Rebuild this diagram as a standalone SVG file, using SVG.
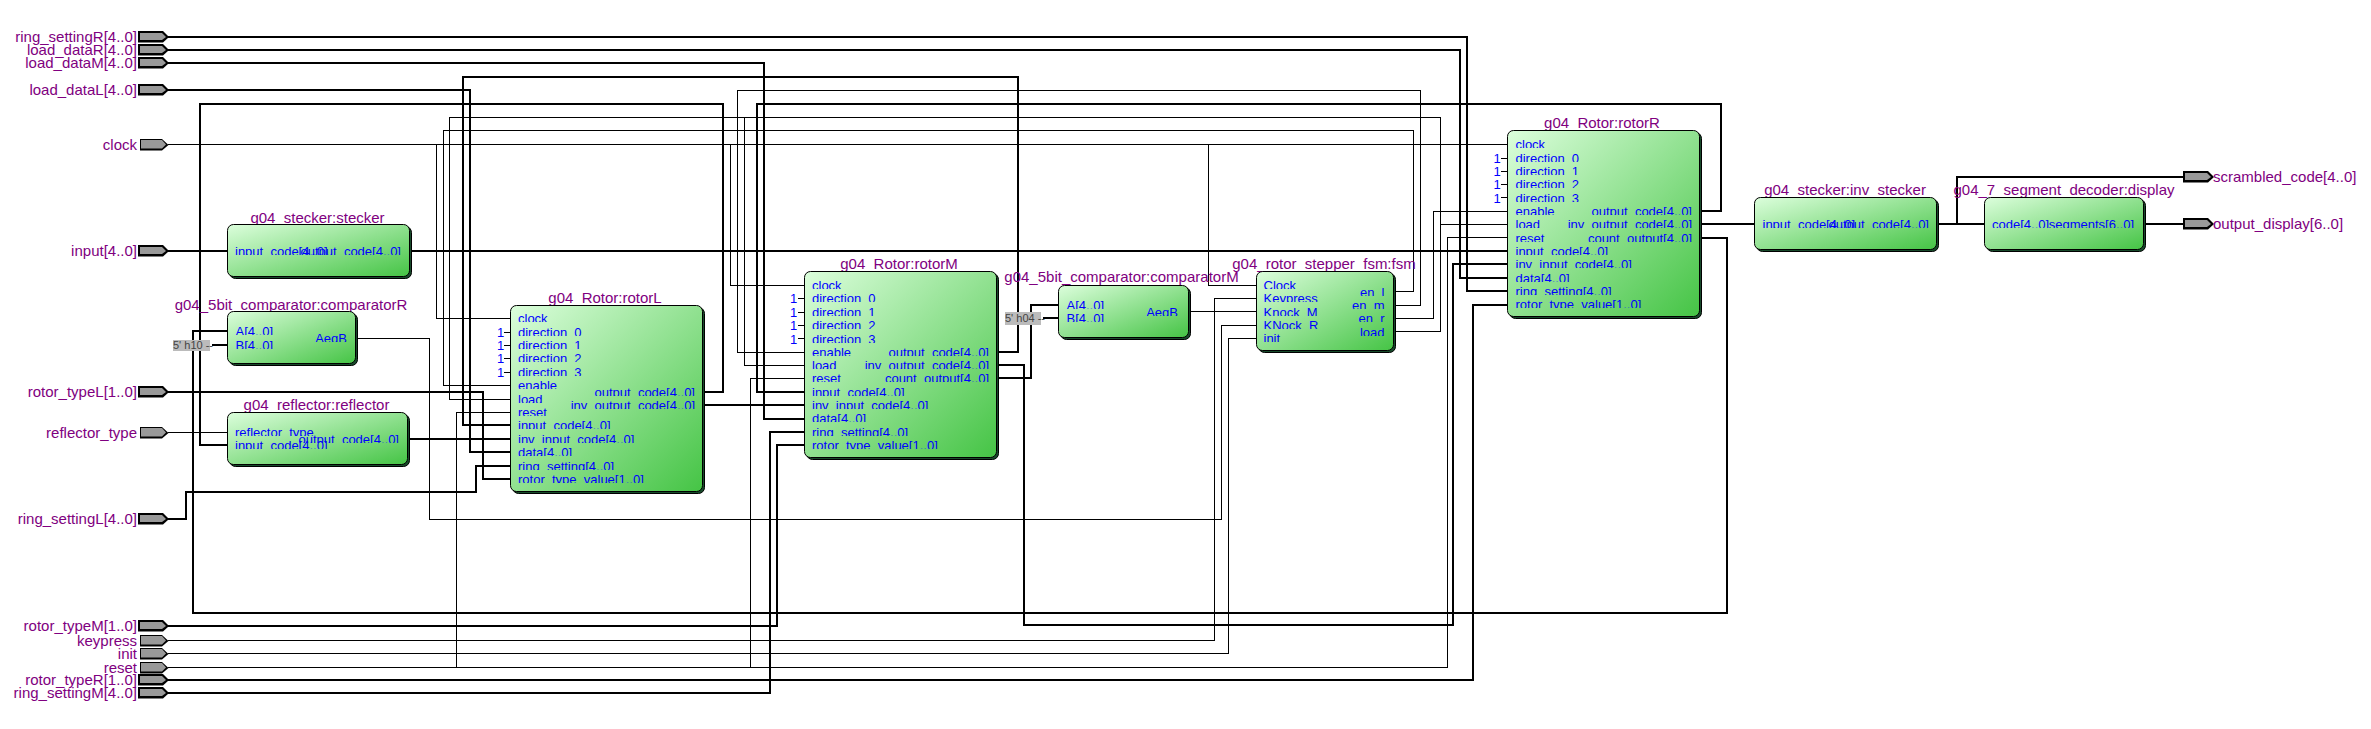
<svg xmlns="http://www.w3.org/2000/svg" width="2371" height="729" viewBox="0 0 2371 729">
<style>
text{font-family:"Liberation Sans",Arial,sans-serif}
.l{font-size:15px;fill:#800080}
.e{text-anchor:end}
.m{text-anchor:middle}
.b{font-size:13px;fill:#0000ff;clip-path:url(#row)}
.o{font-size:13px;fill:#0000ff}
.k{font-size:11px;fill:#444}
.t,.n{fill:none;stroke:#000;shape-rendering:crispEdges}
.t{stroke-width:2}
.n{stroke-width:1}
.s{fill:#17492a;stroke:#000;stroke-width:1}
.f{fill:url(#g);stroke:#000;stroke-width:1}
.c{fill:#bbb}
</style>
<defs>
<linearGradient id="g" x1="0" y1="0" x2="1" y2="1"><stop offset="0" stop-color="#dcfedc"/><stop offset="1" stop-color="#45c445"/></linearGradient>
<clipPath id="row"><rect x="-200" y="-13" width="400" height="12"/></clipPath>
<g id="pb"><path d="M-1-6H24L30 0L24 5.500H-1Z" fill="#000"/><path d="M1-4H23L27 0L23 3H1Z" fill="#999"/></g>
<g id="ps"><path d="M1-5.500H23L29.500 0.500L23 6H1Z" fill="#000"/><path d="M2-4.500H23L27 0L23 4H2Z" fill="#999"/></g>
</defs>
<g id="connectors">
<path class="t" d="M168 37H1467V291H1508"/>
<path class="t" d="M168 50H1460V278H1508"/>
<path class="t" d="M168 63H764V419H805"/>
<path class="t" d="M168 90H470V452H511"/>
<path class="n" d="M168 144.5H1508"/>
<path class="n" d="M436.500 144.500V318.500H511"/>
<path class="n" d="M730.500 144.500V285.500H805"/>
<path class="n" d="M1208.500 144.500V285.500H1256"/>
<path class="t" d="M168 251H228"/>
<path class="t" d="M410 251H1508"/>
<path class="t" d="M168 392H483V479H511"/>
<path class="n" d="M168 432.500H228"/>
<path class="t" d="M168 519H186V492H476V466H511"/>
<path class="t" d="M168 626H777V445H805"/>
<path class="n" d="M168 640.500H1214.500V298.500H1256"/>
<path class="n" d="M168 653.500H1228.500V338.500H1256"/>
<path class="n" d="M168 667.500H1447.500V237.500H1508"/>
<path class="n" d="M456.500 667.500V412.500H511"/>
<path class="n" d="M750.500 667.500V378.500H805"/>
<path class="t" d="M168 680H1473V305H1508"/>
<path class="t" d="M168 693H770V432H805"/>
<path class="t" d="M704 392H723V104H200V445H228"/>
<path class="t" d="M703 405H805"/>
<path class="t" d="M407 439H511"/>
<path class="t" d="M998 352H1018V77H463V425H511"/>
<path class="t" d="M998 365H1024V625H1453V264H1508"/>
<path class="t" d="M998 378H1031V305H1058"/>
<path class="t" d="M1701 211H1721V104H757V392H805"/>
<path class="t" d="M1701 224H1755"/>
<path class="t" d="M1701 238H1727V613H193V331H228"/>
<path class="t" d="M1938 224H1985"/>
<path class="t" d="M1957 224V177H2184"/>
<path class="t" d="M2145 224H2184"/>
<path class="n" d="M1393 291.500H1413.500V130.500H443.500V385.500H511"/>
<path class="n" d="M1393 305.500H1420.500V90.500H737.500V352.500H805"/>
<path class="n" d="M1393 318.500H1433.500V211.500H1508"/>
<path class="n" d="M1393 331.500H1440.500V117.500H449.500V399.500H511"/>
<path class="n" d="M1440.500 224.500H1508"/>
<path class="n" d="M744.500 117.500V365.500H805"/>
<path class="n" d="M357 338.500H429.500V519.500H1221.500V325.500H1256"/>
<path class="n" d="M1189 311.500H1256"/>
<path class="t" d="M212 345H228"/>
<path class="t" d="M1043 318H1058"/>
<path class="n" d="M504 332.500H511M504 345.500H511M504 358.500H511M504 372.500H511"/>
<path class="n" d="M798 298.500H805M798 312.500H805M798 325.500H805M798 338.500H805"/>
<path class="n" d="M1501 158.500H1508M1501 171.500H1508M1501 184.500H1508M1501 197.500H1508"/>
</g>
<g id="port-ring_settingR"><use href="#pb" x="139" y="37"/><text class="l e" x="137" y="42">ring_settingR[4..0]</text></g>
<g id="port-load_dataR"><use href="#pb" x="139" y="50"/><text class="l e" x="137" y="55">load_dataR[4..0]</text></g>
<g id="port-load_dataM"><use href="#pb" x="139" y="63"/><text class="l e" x="137" y="68">load_dataM[4..0]</text></g>
<g id="port-load_dataL"><use href="#pb" x="139" y="90"/><text class="l e" x="137" y="95">load_dataL[4..0]</text></g>
<g id="port-clock"><use href="#ps" x="139" y="144.5"/><text class="l e" x="137" y="149.500">clock</text></g>
<g id="port-input"><use href="#pb" x="139" y="251"/><text class="l e" x="137" y="256">input[4..0]</text></g>
<g id="port-rotor_typeL"><use href="#pb" x="139" y="392"/><text class="l e" x="137" y="397">rotor_typeL[1..0]</text></g>
<g id="port-reflector_type"><use href="#ps" x="139" y="432.5"/><text class="l e" x="137" y="437.500">reflector_type</text></g>
<g id="port-ring_settingL"><use href="#pb" x="139" y="519"/><text class="l e" x="137" y="524">ring_settingL[4..0]</text></g>
<g id="port-rotor_typeM"><use href="#pb" x="139" y="626"/><text class="l e" x="137" y="631">rotor_typeM[1..0]</text></g>
<g id="port-keypress"><use href="#ps" x="139" y="640.5"/><text class="l e" x="137" y="645.500">keypress</text></g>
<g id="port-init"><use href="#ps" x="139" y="653.5"/><text class="l e" x="137" y="658.500">init</text></g>
<g id="port-reset"><use href="#ps" x="139" y="667.5"/><text class="l e" x="137" y="672.500">reset</text></g>
<g id="port-rotor_typeR"><use href="#pb" x="139" y="680"/><text class="l e" x="137" y="685">rotor_typeR[1..0]</text></g>
<g id="port-ring_settingM"><use href="#pb" x="139" y="693"/><text class="l e" x="137" y="698">ring_settingM[4..0]</text></g>
<g id="port-scrambled_code"><use href="#pb" x="2184" y="177"/><text class="l" x="2213" y="182">scrambled_code[4..0]</text></g>
<g id="port-output_display"><use href="#pb" x="2184" y="224"/><text class="l" x="2213" y="229">output_display[6..0]</text></g>
<g id="stecker"><text class="l m" x="317.500" y="222.500">g04_stecker:stecker</text>
<rect class="s" x="229.500" y="226.500" width="182" height="52" rx="6"/><rect class="f" x="227.500" y="224.500" width="182" height="52" rx="6"/>
<text class="b" transform="translate(235,256)">input_code[4..0]</text><text class="b e" transform="translate(401,256)">output_code[4..0]</text></g>
<g id="comparatorR"><text class="l m" x="291" y="310">g04_5bit_comparator:comparatorR</text>
<rect class="s" x="229.500" y="313.500" width="128" height="52" rx="6"/><rect class="f" x="227.500" y="311.500" width="128" height="52" rx="6"/>
<text class="b" transform="translate(235.500,336)">A[4..0]</text><text class="b" transform="translate(235.500,350)">B[4..0]</text><text class="b e" transform="translate(347,343)">AeqB</text></g>
<g id="const-h10"><rect class="c" x="173" y="340" width="37" height="11"/><text class="k" x="173" y="349">5' h10 --</text></g>
<g id="reflector"><text class="l m" x="316.500" y="409.500">g04_reflector:reflector</text>
<rect class="s" x="229.500" y="414.500" width="180" height="52" rx="6"/><rect class="f" x="227.500" y="412.500" width="180" height="52" rx="6"/>
<text class="b" transform="translate(235,437)">reflector_type</text><text class="b" transform="translate(235,450)">input_code[4..0]</text><text class="b e" transform="translate(399,444)">output_code[4..0]</text></g>
<g id="rotorL"><text class="l m" x="605" y="302.500">g04_Rotor:rotorL</text>
<rect class="s" x="512.500" y="307.500" width="192" height="186" rx="6"/><rect class="f" x="510.500" y="305.500" width="192" height="186" rx="6"/>
<text class="o" x="497" y="337">1</text><text class="o" x="497" y="350">1</text><text class="o" x="497" y="363">1</text><text class="o" x="497" y="377">1</text>
<text class="b" transform="translate(518,323)">clock</text><text class="b" transform="translate(518,337)">direction_0</text><text class="b" transform="translate(518,350)">direction_1</text><text class="b" transform="translate(518,363)">direction_2</text><text class="b" transform="translate(518,377)">direction_3</text><text class="b" transform="translate(518,390)">enable</text><text class="b" transform="translate(518,404)">load</text><text class="b" transform="translate(518,417)">reset</text><text class="b" transform="translate(518,430)">input_code[4..0]</text><text class="b" transform="translate(518,444)">inv_input_code[4..0]</text><text class="b" transform="translate(518,457)">data[4..0]</text><text class="b" transform="translate(518,471)">ring_setting[4..0]</text><text class="b" transform="translate(518,484)">rotor_type_value[1..0]</text>
<text class="b e" transform="translate(695,397)">output_code[4..0]</text><text class="b e" transform="translate(695,410)">inv_output_code[4..0]</text></g>
<g id="rotorM"><text class="l m" x="899" y="269">g04_Rotor:rotorM</text>
<rect class="s" x="806.500" y="273.500" width="192" height="186" rx="6"/><rect class="f" x="804.500" y="271.500" width="192" height="186" rx="6"/>
<text class="o" x="790" y="303">1</text><text class="o" x="790" y="317">1</text><text class="o" x="790" y="330">1</text><text class="o" x="790" y="344">1</text>
<text class="b" transform="translate(812,290)">clock</text><text class="b" transform="translate(812,303)">direction_0</text><text class="b" transform="translate(812,317)">direction_1</text><text class="b" transform="translate(812,330)">direction_2</text><text class="b" transform="translate(812,344)">direction_3</text><text class="b" transform="translate(812,357)">enable</text><text class="b" transform="translate(812,370)">load</text><text class="b" transform="translate(812,383)">reset</text><text class="b" transform="translate(812,397)">input_code[4..0]</text><text class="b" transform="translate(812,410)">inv_input_code[4..0]</text><text class="b" transform="translate(812,423)">data[4..0]</text><text class="b" transform="translate(812,437)">ring_setting[4..0]</text><text class="b" transform="translate(812,450)">rotor_type_value[1..0]</text>
<text class="b e" transform="translate(989,357)">output_code[4..0]</text><text class="b e" transform="translate(989,370)">inv_output_code[4..0]</text><text class="b e" transform="translate(989,383)">count_output[4..0]</text></g>
<g id="comparatorM"><text class="l m" x="1121.500" y="282">g04_5bit_comparator:comparatorM</text>
<rect class="s" x="1060.500" y="287.500" width="130" height="52" rx="6"/><rect class="f" x="1058.500" y="285.500" width="130" height="52" rx="6"/>
<text class="b" transform="translate(1066.500,310)">A[4..0]</text><text class="b" transform="translate(1066.500,323)">B[4..0]</text><text class="b e" transform="translate(1178,317)">AeqB</text></g>
<g id="const-h04"><rect class="c" x="1005" y="312" width="36" height="13"/><text class="k" x="1005" y="322">5' h04 --</text></g>
<g id="fsm"><text class="l m" x="1324" y="269">g04_rotor_stepper_fsm:fsm</text>
<rect class="s" x="1258.500" y="273.500" width="137" height="79" rx="6"/><rect class="f" x="1256.500" y="271.500" width="137" height="79" rx="6"/>
<text class="b" transform="translate(1263.500,290)">Clock</text><text class="b" transform="translate(1263.500,303)">Keypress</text><text class="b" transform="translate(1263.500,317)">Knock_M</text><text class="b" transform="translate(1263.500,330)">KNock_R</text><text class="b" transform="translate(1263.500,343)">init</text>
<text class="b e" transform="translate(1384.500,297)">en_l</text><text class="b e" transform="translate(1384.500,310)">en_m</text><text class="b e" transform="translate(1384.500,323)">en_r</text><text class="b e" transform="translate(1384.500,337)">load</text></g>
<g id="rotorR"><text class="l m" x="1602" y="128">g04_Rotor:rotorR</text>
<rect class="s" x="1509.500" y="132.500" width="192" height="186" rx="6"/><rect class="f" x="1507.500" y="130.500" width="192" height="186" rx="6"/>
<text class="o" x="1493.500" y="163">1</text><text class="o" x="1493.500" y="176">1</text><text class="o" x="1493.500" y="189">1</text><text class="o" x="1493.500" y="203">1</text>
<text class="b" transform="translate(1515.500,149)">clock</text><text class="b" transform="translate(1515.500,163)">direction_0</text><text class="b" transform="translate(1515.500,176)">direction_1</text><text class="b" transform="translate(1515.500,189)">direction_2</text><text class="b" transform="translate(1515.500,203)">direction_3</text><text class="b" transform="translate(1515.500,216)">enable</text><text class="b" transform="translate(1515.500,229)">load</text><text class="b" transform="translate(1515.500,243)">reset</text><text class="b" transform="translate(1515.500,256)">input_code[4..0]</text><text class="b" transform="translate(1515.500,269)">inv_input_code[4..0]</text><text class="b" transform="translate(1515.500,283)">data[4..0]</text><text class="b" transform="translate(1515.500,296)">ring_setting[4..0]</text><text class="b" transform="translate(1515.500,309)">rotor_type_value[1..0]</text>
<text class="b e" transform="translate(1692,216)">output_code[4..0]</text><text class="b e" transform="translate(1692,229)">inv_output_code[4..0]</text><text class="b e" transform="translate(1692,243)">count_output[4..0]</text></g>
<g id="inv_stecker"><text class="l m" x="1845" y="195">g04_stecker:inv_stecker</text>
<rect class="s" x="1756.500" y="199.500" width="182" height="52" rx="6"/><rect class="f" x="1754.500" y="197.500" width="182" height="52" rx="6"/>
<text class="b" transform="translate(1762.500,229)">input_code[4..0]</text><text class="b e" transform="translate(1929,229)">output_code[4..0]</text></g>
<g id="display"><text class="l m" x="2064" y="195">g04_7_segment_decoder:display</text>
<rect class="s" x="1986.500" y="199.500" width="159" height="52" rx="6"/><rect class="f" x="1984.500" y="197.500" width="159" height="52" rx="6"/>
<text class="b" transform="translate(1992,229)">code[4..0]</text><text class="b e" transform="translate(2134,229)">segments[6..0]</text></g>
</svg>
